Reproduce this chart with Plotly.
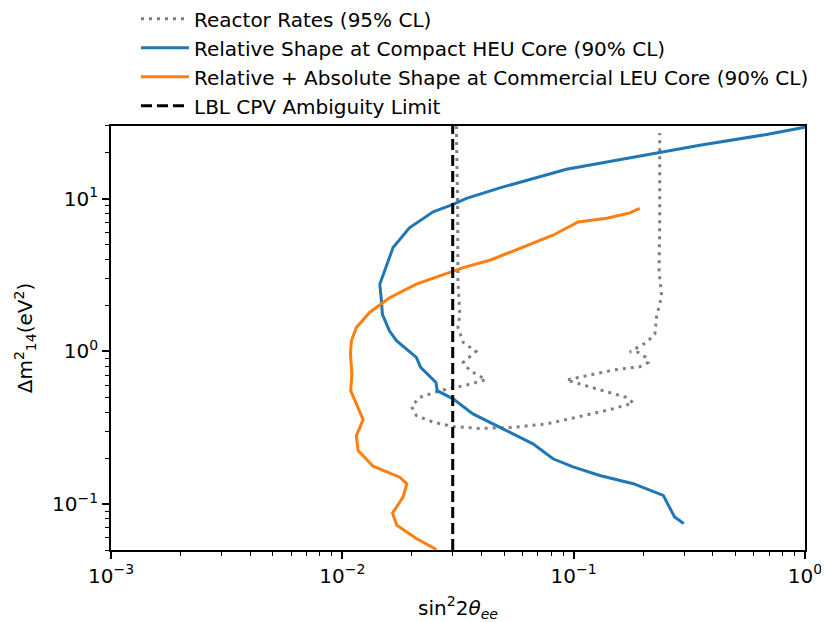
import plotly.graph_objects as go

# ---- data ----
heu_x = [1.0, 0.683, 0.351, 0.236, 0.181, 0.0931, 0.048, 0.0344, 0.0301, 0.0247, 0.0195,
         0.01657, 0.0156, 0.01452, 0.01476, 0.0149, 0.0160, 0.01714, 0.0209, 0.0218, 0.0254,
         0.0257, 0.0301, 0.0367, 0.048, 0.0667, 0.0814, 0.0994, 0.1297, 0.181, 0.244, 0.260,
         0.273, 0.299]
heu_y = [29.5, 26.4, 22.4, 20.2, 18.7, 15.6, 11.8, 10.06, 9.2, 8.22, 6.46,
         4.79, 3.73, 2.76, 2.14, 1.75, 1.36, 1.175, 0.914, 0.786, 0.627,
         0.553, 0.489, 0.390, 0.318, 0.248, 0.198, 0.175, 0.154, 0.136, 0.114, 0.0955,
         0.0822, 0.0745]

leu_x = [0.193, 0.175, 0.139, 0.1045, 0.0814, 0.0566, 0.0434, 0.0333, 0.0282, 0.0209, 0.0160,
         0.01312, 0.0115, 0.01094, 0.01084, 0.0110, 0.01087, 0.0115, 0.0123, 0.0115, 0.0117,
         0.01358, 0.0177, 0.0190, 0.0183, 0.01648, 0.0172, 0.0209, 0.0255]
leu_y = [8.65, 8.09, 7.45, 7.05, 5.77, 4.67, 3.96, 3.54, 3.24, 2.76, 2.25,
         1.80, 1.435, 1.175, 0.961, 0.711, 0.553, 0.453, 0.357, 0.281, 0.224,
         0.177, 0.150, 0.136, 0.111, 0.0873, 0.0726, 0.0594, 0.0504]

rates_x = [0.0311, 0.0315, 0.0316, 0.0322, 0.0316, 0.0333, 0.0378, 0.0333, 0.0356, 0.0417,
           0.0344, 0.0264, 0.0216, 0.0199, 0.0209, 0.0247, 0.0301, 0.0393, 0.0547, 0.0762,
           0.106, 0.148, 0.181, 0.169, 0.130, 0.1028, 0.0931, 0.1135, 0.148, 0.193,
           0.210, 0.205, 0.190, 0.175, 0.2065, 0.2244, 0.228, 0.240, 0.234, 0.2355, 0.2355]
rates_y = [30.0, 9.66, 2.90, 1.75, 1.436, 1.146, 1.0, 0.847, 0.749, 0.653,
           0.602, 0.553, 0.500, 0.435, 0.380, 0.344, 0.322, 0.313, 0.318, 0.335,
           0.374, 0.421, 0.460, 0.500, 0.560, 0.618, 0.650, 0.693, 0.755, 0.794,
           0.847, 0.914, 0.985, 0.995, 1.146, 1.30, 1.67, 2.31, 3.36, 7.15, 27.0]

cpv_x = [0.03, 0.03]
cpv_y = [0.05, 30.0]

x_ticks = [0.001, 0.01, 0.1, 1.0]
x_ticktext = ["10<sup>−3</sup>", "10<sup>−2</sup>", "10<sup>−1</sup>", "10<sup>0</sup>"]
y_ticks = [0.1, 1.0, 10.0]
y_ticktext = ["10<sup>−1</sup>", "10<sup>0</sup>", "10<sup>1</sup>"]

FONT = "DejaVu Sans"
FS = 20

def minor_vals(lo_exp, hi_exp):
    vals = []
    for e in range(lo_exp, hi_exp + 1):
        for m in range(2, 10):
            vals.append(m * 10 ** e)
    return vals

fig = go.Figure()
fig.add_trace(go.Scatter(x=rates_x, y=rates_y, mode="lines", name="Reactor Rates (95% CL)",
                         legendgroup="a",
                         line=dict(color="#808080", width=3, dash="3px,5px")))
fig.add_trace(go.Scatter(x=heu_x, y=heu_y, mode="lines",
                         name="Relative Shape at Compact HEU Core (90% CL)", legendgroup="b",
                         line=dict(color="#1f77b4", width=3)))
fig.add_trace(go.Scatter(x=leu_x, y=leu_y, mode="lines",
                         name="Relative + Absolute Shape at Commercial LEU Core (90% CL)",
                         legendgroup="c",
                         line=dict(color="#ff7f0e", width=3)))
fig.add_trace(go.Scatter(x=cpv_x, y=cpv_y, mode="lines", name="LBL CPV Ambiguity Limit",
                         legendgroup="d",
                         line=dict(color="black", width=3, dash="11px,5px")))

axis_common = dict(type="log", showgrid=False, zeroline=False, showline=True,
                   linecolor="black", linewidth=1.6, mirror=True, ticks="outside",
                   ticklen=7, tickwidth=1.6, tickcolor="black", automargin=False,
                   tickfont=dict(family=FONT, size=FS, color="black"))

fig.update_xaxes(range=[-3, 0], tickvals=x_ticks, ticktext=x_ticktext,
                 minor=dict(tickvals=minor_vals(-3, -1), ticks="outside", ticklen=4,
                            tickwidth=1.2, tickcolor="black"),
                 title=dict(text="sin<sup>2</sup>2<i>θ<sub>ee</sub></i>",
                            font=dict(family=FONT, size=FS, color="black"), standoff=14),
                 **axis_common)
fig.update_yaxes(range=[-1.301, 1.477], tickvals=y_ticks, ticktext=y_ticktext,
                 minor=dict(tickvals=minor_vals(-2, 1), ticks="outside", ticklen=4,
                            tickwidth=1.2, tickcolor="black"),
                 title=dict(text="Δm<sup>2</sup><sub>14</sub>(eV<sup>2</sup>)",
                            font=dict(family=FONT, size=FS, color="black"), standoff=14),
                 **axis_common)

fig.update_layout(
    width=821, height=614,
    margin=dict(l=103, r=24, t=118, b=72, autoexpand=False),
    plot_bgcolor="white", paper_bgcolor="white",
    font=dict(family=FONT, size=FS, color="black"),
    legend=dict(x=0.036, y=1.299, xanchor="left", yanchor="top",
                font=dict(family=FONT, size=FS, color="black"),
                bgcolor="rgba(255,255,255,0)", tracegroupgap=0,
                itemwidth=48),
    showlegend=True,
)

fig.write_html("out.html")
